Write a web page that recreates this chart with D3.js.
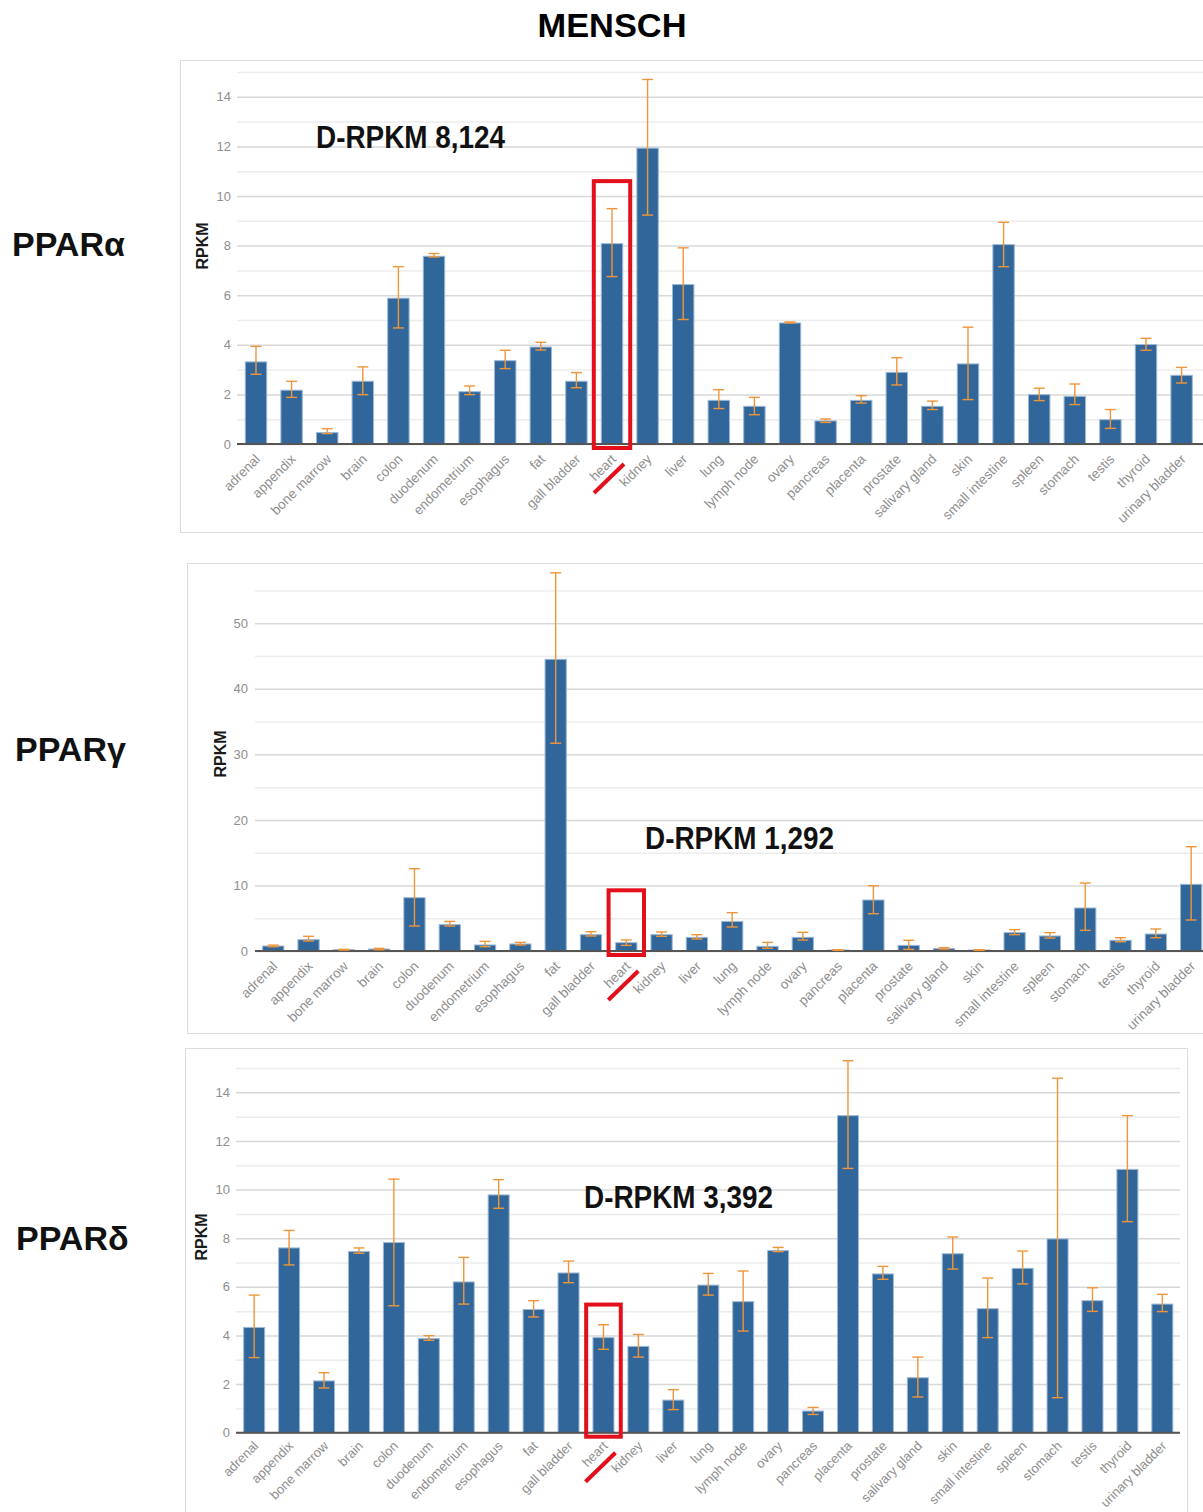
<!DOCTYPE html>
<html>
<head>
<meta charset="utf-8">
<script src="https://cdn.jsdelivr.net/npm/d3@7"></script>
<style>
  body { margin: 0; background: #fff; }
  svg { display: block; font-family: "Liberation Sans", Arial, sans-serif; }
</style>
</head>
<body>
<svg width="1203" height="1512"></svg>
<script>
"use strict";

// tissues, same order in all three panels
const categories = ["adrenal", "appendix", "bone marrow", "brain", "colon", "duodenum",
  "endometrium", "esophagus", "fat", "gall bladder", "heart", "kidney", "liver", "lung",
  "lymph node", "ovary", "pancreas", "placenta", "prostate", "salivary gland", "skin",
  "small intestine", "spleen", "stomach", "testis", "thyroid", "urinary bladder"];

// PPARα (RPKM, with error range)
const alphaValues = [3.31, 2.17, 0.46, 2.53, 5.88, 7.57, 2.11, 3.36, 3.91, 2.53, 8.08, 11.93, 6.43, 1.76, 1.52, 4.88, 0.93, 1.76, 2.89, 1.52, 3.23, 8.04, 1.99, 1.92, 0.98, 4.01, 2.77];
const alphaLow    = [2.81, 1.88, 0.42, 1.99, 4.68, 7.54, 1.99, 3.04, 3.79, 2.27, 6.75, 9.23, 5.02, 1.43, 1.18, 4.88, 0.87, 1.65, 2.38, 1.39, 1.79, 7.15, 1.75, 1.59, 0.63, 3.78, 2.46];
const alphaHigh   = [3.94, 2.53, 0.62, 3.11, 7.15, 7.68, 2.34, 3.78, 4.10, 2.88, 9.49, 14.7, 7.91, 2.19, 1.88, 4.92, 1.01, 1.95, 3.48, 1.73, 4.71, 8.94, 2.25, 2.42, 1.39, 4.26, 3.09];

// PPARγ
const gammaValues = [0.76, 1.73, 0.2, 0.3, 8.13, 4.02, 0.92, 1.07, 44.5, 2.49, 1.27, 2.49, 2.08, 4.52, 0.71, 2.08, 0.15, 7.78, 0.86, 0.36, 0.15, 2.8, 2.29, 6.56, 1.63, 2.59, 10.17];
const gammaLow    = [0.65, 1.53, 0.15, 0.2, 3.81, 3.81, 0.66, 0.92, 31.7, 2.29, 0.86, 2.24, 1.83, 3.66, 0.41, 1.68, 0.1, 5.69, 0.25, 0.3, 0.1, 2.49, 1.98, 3.15, 1.42, 2.03, 4.73];
const gammaHigh   = [0.9, 2.24, 0.25, 0.4, 12.56, 4.52, 1.47, 1.32, 57.7, 2.95, 1.68, 2.9, 2.49, 5.85, 1.32, 2.85, 0.2, 9.96, 1.63, 0.51, 0.2, 3.25, 2.8, 10.37, 2.03, 3.36, 15.91];

// PPARδ
const deltaValues = [4.33, 7.6, 2.13, 7.45, 7.82, 3.87, 6.2, 9.78, 5.07, 6.57, 3.91, 3.55, 1.34, 6.07, 5.39, 7.49, 0.89, 13.04, 6.53, 2.26, 7.36, 5.1, 6.76, 7.97, 5.43, 10.83, 5.29];
const deltaLow    = [3.09, 6.9, 1.84, 7.38, 5.22, 3.8, 5.29, 9.23, 4.76, 6.17, 3.43, 3.11, 0.95, 5.66, 4.18, 7.45, 0.75, 10.87, 6.31, 1.47, 6.73, 3.91, 6.12, 1.44, 4.99, 8.68, 4.98];
const deltaHigh   = [5.66, 8.32, 2.47, 7.6, 10.43, 3.99, 7.21, 10.41, 5.43, 7.06, 4.44, 4.04, 1.77, 6.55, 6.65, 7.62, 1.04, 15.3, 6.84, 3.11, 8.05, 6.36, 7.47, 14.58, 5.96, 13.04, 5.69];

const alphaTicks = [0, 2, 4, 6, 8, 10, 12, 14];
const gammaTicks = [0, 10, 20, 30, 40, 50];
const deltaTicks = [0, 2, 4, 6, 8, 10, 12, 14];

const highlight = "heart";

var svg = d3.select("svg");

var barColor = "#31669b",
    barEdge = "#9bb8d6",
    errColor = "#f0963a",
    red = "#e3101b";

svg.append("text")
    .attr("x", 612).attr("y", 37)
    .attr("text-anchor", "middle")
    .attr("font-size", 34).attr("font-weight", "bold")
    .attr("textLength", 149).attr("lengthAdjust", "spacingAndGlyphs")
    .text("MENSCH");

function drawPanel(p) {
  var g = svg.append("g");

  // frame of the screenshot
  g.append("rect")
      .attr("x", p.frame[0] + 0.5).attr("y", p.frame[1] + 0.5)
      .attr("width", p.frame[2] - p.frame[0]).attr("height", p.frame[3] - p.frame[1])
      .attr("fill", "none").attr("stroke", "#dcdcdc");

  var x = d3.scaleBand()
      .domain(categories)
      .range(p.xRange)
      .paddingInner(0.37)
      .paddingOuter(0.185);

  var y = d3.scaleLinear()
      .domain([0, p.yMax])
      .range(p.yRange);

  var gridW = p.gridRight - p.gridLeft;

  // minor gridlines
  g.append("g")
      .attr("transform", "translate(" + p.gridLeft + ",0)")
      .call(d3.axisLeft(y).tickValues(p.minor).tickSize(-gridW).tickFormat(""))
      .call(a => a.select(".domain").remove())
      .call(a => a.selectAll("line").attr("stroke", "#ececec").attr("stroke-width", 1.5));

  // major gridlines + labels
  g.append("g")
      .attr("transform", "translate(" + p.gridLeft + ",0)")
      .call(d3.axisLeft(y).tickValues(p.ticks).tickSize(-gridW).tickPadding(p.tickPad))
      .call(a => a.select(".domain").remove())
      .call(a => a.selectAll("line").attr("stroke", "#d8d8d8").attr("stroke-width", 1.5))
      .call(a => a.selectAll("text")
          .attr("fill", "#8e8e8e")
          .attr("font-size", 13)
          .attr("font-family", "Liberation Sans, Arial, sans-serif"));

  g.append("text")
      .attr("transform", "translate(" + p.titleX + "," + p.titleY + ") rotate(-90)")
      .attr("text-anchor", "middle")
      .attr("dy", "0.35em")
      .attr("font-size", 16).attr("font-weight", "bold")
      .attr("fill", "#1a1a1a")
      .text("RPKM");

  var rows = categories.map((c, i) => ({ name: c, v: p.values[i], lo: p.low[i], hi: p.high[i] }));

  g.append("g").selectAll("rect")
      .data(rows)
      .enter().append("rect")
      .attr("x", d => x(d.name) + 0.5)
      .attr("y", d => y(d.v))
      .attr("width", x.bandwidth() - 1)
      .attr("height", d => y(0) - y(d.v))
      .attr("fill", barColor)
      .attr("stroke", barEdge)
      .attr("stroke-width", 1);

  // baseline
  g.append("line")
      .attr("x1", p.gridLeft).attr("x2", p.gridRight)
      .attr("y1", y(0)).attr("y2", y(0))
      .attr("stroke", "#555").attr("stroke-width", 2);

  var cap = 5.5;
  var err = g.append("g")
      .attr("stroke", errColor)
      .attr("stroke-width", 1.4)
      .selectAll("g")
      .data(rows)
      .enter().append("g")
      .attr("transform", d => "translate(" + (x(d.name) + x.bandwidth() / 2) + ",0)");
  err.append("line").attr("y1", d => y(d.lo)).attr("y2", d => y(d.hi));
  err.append("line").attr("x1", -cap).attr("x2", cap).attr("y1", d => y(d.hi)).attr("y2", d => y(d.hi));
  err.append("line").attr("x1", -cap).attr("x2", cap).attr("y1", d => y(d.lo)).attr("y2", d => y(d.lo));

  // rotated category labels
  g.append("g").selectAll("text")
      .data(categories)
      .enter().append("text")
      .attr("transform", d => "translate(" + (x(d) + x.bandwidth() / 2 + 5) + "," + (y(0) + p.labelDy) + ") rotate(-45)")
      .attr("text-anchor", "end")
      .attr("font-size", p.labelSize)
      .attr("fill", "#8e8e8e")
      .text(d => d);

  // red highlight box around the heart bar and slash under its label
  var hx = x(highlight) + x.bandwidth() / 2;
  g.append("rect")
      .attr("x", hx - p.boxHalf).attr("y", y(p.boxTop))
      .attr("width", p.boxHalf * 2).attr("height", y(0) + 4 - y(p.boxTop))
      .attr("fill", "none").attr("stroke", red).attr("stroke-width", 4);
  g.append("line")
      .attr("x1", hx - 18).attr("y1", y(0) + 49)
      .attr("x2", hx + 12).attr("y2", y(0) + 20)
      .attr("stroke", red).attr("stroke-width", 4);

  g.append("text")
      .attr("x", p.noteX).attr("y", p.noteY)
      .attr("font-size", 32).attr("font-weight", "bold")
      .attr("textLength", 189).attr("lengthAdjust", "spacingAndGlyphs")
      .attr("fill", "#111")
      .text(p.note);

  svg.append("text")
      .attr("x", p.nameX).attr("y", p.nameY)
      .attr("font-size", 34).attr("font-weight", "bold")
      .attr("fill", "#111")
      .text(p.name);
}

drawPanel({
  name: "PPARα", nameX: 12, nameY: 256,
  values: alphaValues, low: alphaLow, high: alphaHigh,
  frame: [180, 60, 1210, 532],
  xRange: [238.2, 1199.4], yRange: [444, 72], yMax: 15,
  gridLeft: 237, gridRight: 1203, tickPad: 6,
  ticks: alphaTicks, minor: [1, 3, 5, 7, 9, 11, 13, 15],
  labelSize: 13.5, labelDy: 16,
  titleX: 202, titleY: 246,
  boxHalf: 18.2, boxTop: 10.6,
  note: "D-RPKM 8,124", noteX: 316, noteY: 148
});

drawPanel({
  name: "PPARγ", nameX: 15, nameY: 761,
  values: gammaValues, low: gammaLow, high: gammaHigh,
  frame: [187, 563, 1210, 1033],
  xRange: [255.6, 1208.8], yRange: [951, 590.5], yMax: 55,
  gridLeft: 255, gridRight: 1203, tickPad: 7,
  ticks: gammaTicks, minor: [5, 15, 25, 35, 45, 55],
  labelSize: 13.5, labelDy: 16,
  titleX: 220, titleY: 754,
  boxHalf: 17.7, boxTop: 9.26,
  note: "D-RPKM 1,292", noteX: 645, noteY: 849
});

drawPanel({
  name: "PPARδ", nameX: 16, nameY: 1250,
  values: deltaValues, low: deltaLow, high: deltaHigh,
  frame: [185, 1048, 1187, 1520],
  xRange: [236.7, 1179.8], yRange: [1432.7, 1068], yMax: 15,
  gridLeft: 236, gridRight: 1180, tickPad: 6,
  ticks: deltaTicks, minor: [1, 3, 5, 7, 9, 11, 13, 15],
  labelSize: 13, labelDy: 14,
  titleX: 201, titleY: 1237,
  boxHalf: 17.3, boxTop: 5.27,
  note: "D-RPKM 3,392", noteX: 584, noteY: 1208
});
</script>
</body>
</html>
